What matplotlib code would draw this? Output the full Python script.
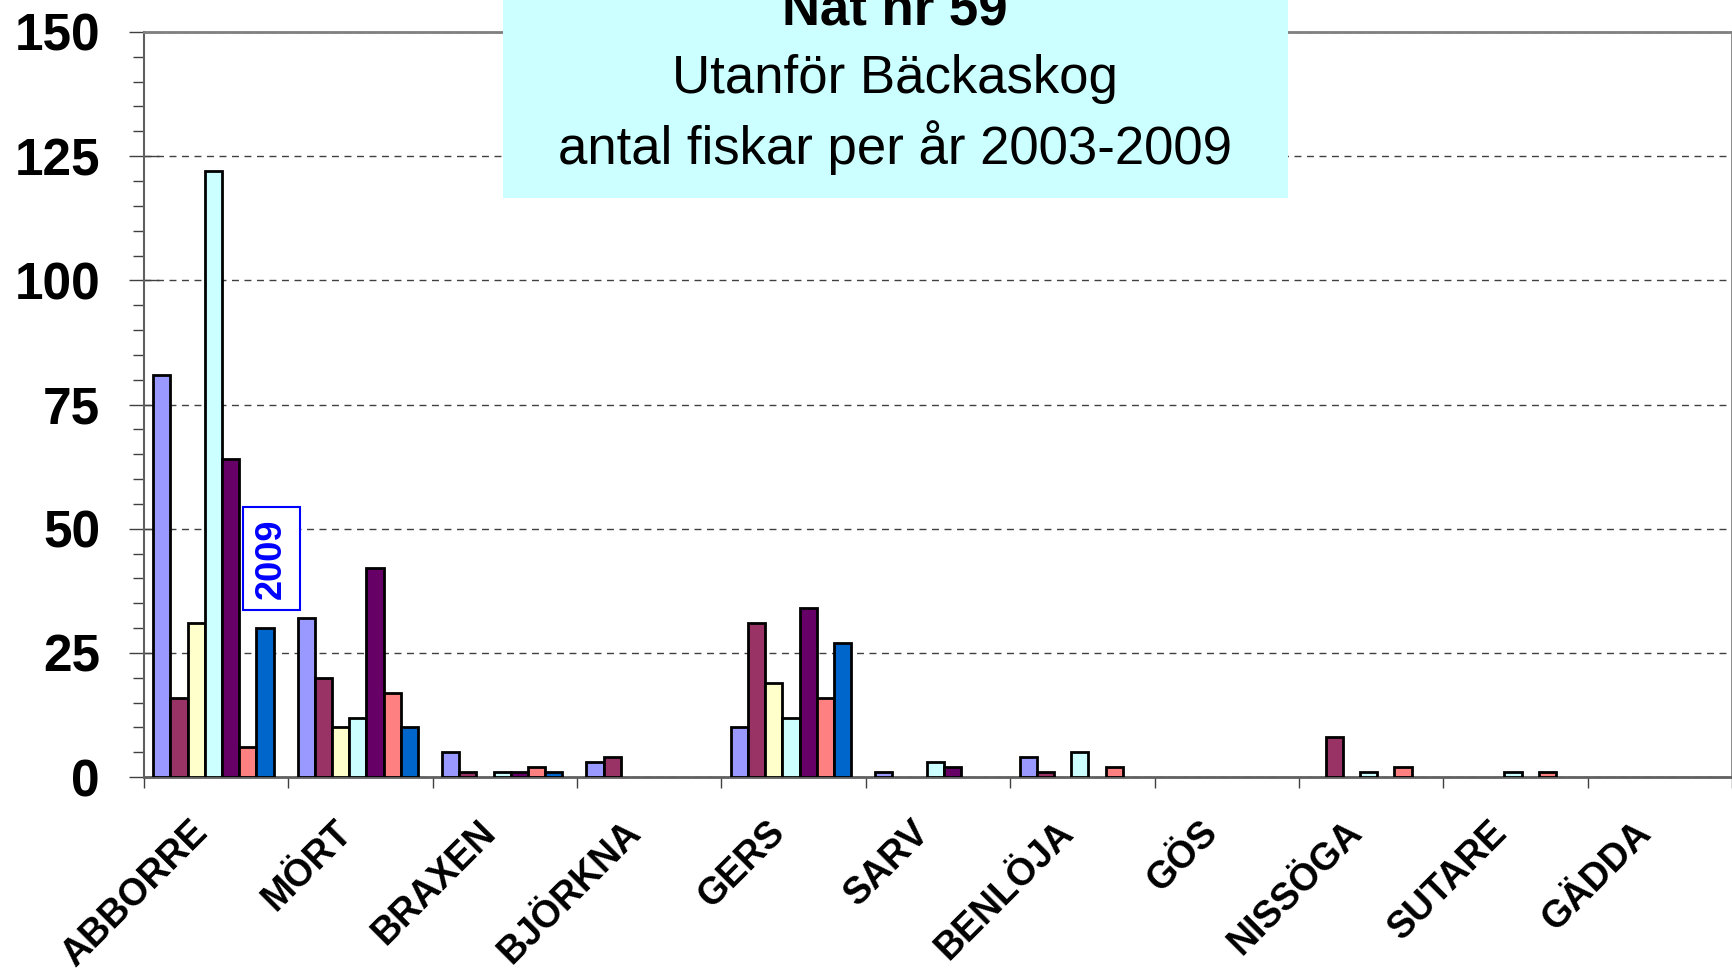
import matplotlib.pyplot as plt
import matplotlib.transforms as mtransforms
import numpy as np
from matplotlib.patches import Rectangle

plt.rcParams['font.family'] = ['Liberation Sans', 'DejaVu Sans']

# Fish species (x categories)
species = ['ABBORRE', 'MÖRT', 'BRAXEN', 'BJÖRKNA', 'GERS', 'SARV',
           'BENLÖJA', 'GÖS', 'NISSÖGA', 'SUTARE', 'GÄDDA']

# Number of fish per year
y2003 = [81, 32, 5, 3, 10, 1, 4, 0, 0, 0, 0]
y2004 = [16, 20, 1, 4, 31, 0, 1, 0, 8, 0, 0]
y2005 = [31, 10, 0, 0, 19, 0, 0, 0, 0, 0, 0]
y2006 = [122, 12, 1, 0, 12, 3, 5, 0, 1, 1, 0]
y2007 = [64, 42, 1, 0, 34, 2, 0, 0, 0, 0, 0]
y2008 = [6, 17, 2, 0, 16, 0, 2, 0, 2, 1, 0]
y2009 = [30, 10, 1, 0, 27, 0, 0, 0, 0, 0, 0]

years = [y2003, y2004, y2005, y2006, y2007, y2008, y2009]
colors = ['#9999FF', '#993366', '#FFFFCC', '#CCFFFF', '#660066', '#FF8080', '#0066CC']

fig = plt.figure(figsize=(17.33, 9.69), dpi=100)
ax = fig.add_axes([0.083, 0.198, 0.9165, 0.769])

x = np.arange(len(species))
w = 0.119
for i, (vals, c) in enumerate(zip(years, colors)):
    # empty bars get no outline
    edges = ['black' if v > 0 else 'none' for v in vals]
    ax.bar(x + (i - 3) * w - 0.018, vals, width=w, color=c,
           edgecolor=edges, linewidth=2.0, zorder=3)

ax.set_xlim(-0.5, len(species) - 0.5)
ax.set_ylim(0, 150)

# y axis
ax.set_yticks(np.arange(0, 151, 25))
ax.set_yticks(np.arange(0, 151, 5), minor=True)
ax.tick_params(axis='y', which='major', direction='inout', length=21,
               width=1, pad=21, labelsize=37, color='#404040')
ax.tick_params(axis='y', which='minor', direction='out', length=8,
               width=1, color='#404040')
for lbl in ax.get_yticklabels():
    lbl.set_fontweight('bold')

# x axis: ticks between groups, labels at group centres
ax.set_xticks(np.arange(-0.5, len(species), 1.0))
ax.set_xticklabels([])
ax.set_xticks(x, minor=True)
ax.set_xticklabels(species, minor=True, rotation=45, ha='right', va='center',
                   rotation_mode='anchor', fontsize=27, fontweight='bold')
ax.tick_params(axis='x', which='major', direction='out', length=8, width=1,
               color='#404040')
ax.tick_params(axis='x', which='minor', length=0, pad=36)
shift = mtransforms.ScaledTranslation(-0.14, 0, fig.dpi_scale_trans)
for lbl in ax.get_xticklabels(minor=True):
    lbl.set_transform(lbl.get_transform() + shift)

ax.yaxis.grid(True, linestyle=(0, (5, 4)), color='#404040', linewidth=1)
ax.set_axisbelow(True)
for s in ['top', 'right']:
    ax.spines[s].set_color('#808080')
    ax.spines[s].set_linewidth(2)
ax.spines['left'].set_color('#606060')
ax.spines['left'].set_linewidth(1.5)
ax.spines['bottom'].set_color('#606060')
ax.spines['bottom'].set_linewidth(2)

# "2009" label
ax.text(0.385, 44, '2009', rotation=90, ha='center', va='center',
        fontsize=26, fontweight='bold', color='#0000FF', zorder=4,
        bbox=dict(boxstyle='square,pad=0.3', facecolor='white',
                  edgecolor='#0000FF', linewidth=1.5))

# Title box
box = Rectangle((0.290, 0.796), 0.453, 0.21, transform=fig.transFigure,
                facecolor='#CCFFFF', edgecolor='none', zorder=5)
fig.add_artist(box)
fig.text(0.5165, 0.974, 'Nät nr 59', ha='center', va='baseline',
         fontsize=38, fontweight='bold', zorder=6)
fig.text(0.5165, 0.904, 'Utanför Bäckaskog', ha='center', va='baseline',
         fontsize=38, zorder=6)
fig.text(0.5165, 0.831, 'antal fiskar per år 2003-2009', ha='center',
         va='baseline', fontsize=38, zorder=6)

fig.savefig('out.png', dpi=100)
